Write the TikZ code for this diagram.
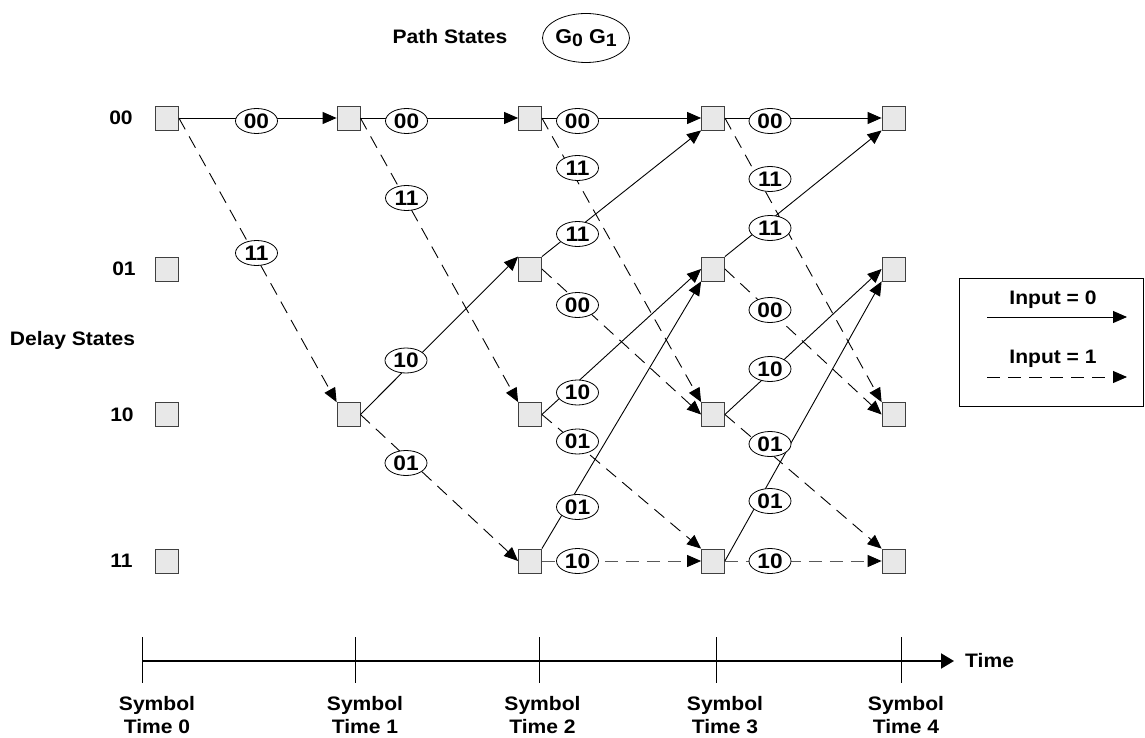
\documentclass[tikz,border=0pt]{standalone}
\usepackage{fontspec}
\setmainfont[FakeStretch=1.08]{Liberation Sans}
\usetikzlibrary{shapes.geometric,arrows.meta}
\tikzset{
  statebox/.style={draw=black!75,fill=black!9,line width=0.8pt,minimum width=23pt,minimum height=24pt,inner sep=0pt},
  lbl/.style={ellipse,draw=black,fill=white,line width=0.8pt,minimum width=42pt,minimum height=25pt,inner sep=0pt,font=\fontsize{21}{22}\selectfont\bfseries},
  txt/.style={font=\fontsize{19.5}{22.5}\selectfont\bfseries,inner sep=0pt},
  tip/.style={-{Triangle[length=14pt,width=12pt,color=black]}},
  zero/.style={tip,line width=0.9pt},
  one/.style={tip,line width=0.9pt,dash pattern=on 13pt off 8pt},
}
\begin{document}
\begin{tikzpicture}[x=1pt,y=-1pt]
\useasboundingbox (0,0) rectangle (1145,738);
% states
\foreach \x/\c in {167/0,530/2,713/3,893.5/4}
  \foreach \y/\r in {118/00,269/01,414.5/10,561/11}
    \node[statebox] (s\r\c) at (\x,\y) {};
\node[statebox] (s001) at (348.5,118) {};
\node[statebox] (s101) at (348.5,414.5) {};
% row labels
\node[txt] (r00) at (121,118) {00};
\node[txt] (r01) at (124,269) {01};
\node[txt] (r10) at (122,415) {10};
\node[txt] (r11) at (121.5,561) {11};
\node[txt] (delay) at (72.5,340) {Delay States};
% path states
\node[txt] (pathstates) at (450,37) {Path States};
\node[ellipse,draw=black,line width=0.8pt,minimum width=87pt,minimum height=49pt,inner sep=0pt,font=\fontsize{20}{22}\selectfont\bfseries] (g) at (586,38) {G\raisebox{-0.35ex}{\fontsize{18}{18}\selectfont 0} G\raisebox{-0.35ex}{\fontsize{18}{18}\selectfont 1}};
% t0 -> t1
\draw[zero] (s000.east) -- (s001.west);
\draw[one] (s000.east) -- (s101.north west);
% t1 -> t2
\draw[zero] (s001.east) -- (s002.west);
\draw[one] (s001.east) -- (s102.north west);
\draw[zero] (s101.east) -- (s012.north west);
\draw[one] (s101.east) -- (s112.west);
% t2 -> t3
\draw[zero] (s002.east) -- (s003.west);
\draw[one] (s002.east) -- (s103.north west);
\draw[zero] (s012.north east) -- (s003.south west);
\draw[one] (s012.east) -- (s103.west);
\draw[zero] (s102.east) -- (s013.west);
\draw[one] (s102.east) -- (s113.north west);
\draw[zero] (s112.north east) -- (s013.south west);
\draw[one,draw=black!65] (s112.east) -- (s113.west);
% t3 -> t4
\draw[zero] (s003.east) -- (s004.west);
\draw[one] (s003.east) -- (s104.north west);
\draw[zero] (s013.north east) -- (s004.south west);
\draw[one] (s013.east) -- (s104.west);
\draw[zero] (s103.east) -- (s014.west);
\draw[one] (s103.east) -- (s114.north west);
\draw[zero] (s113.east) -- (s014.south west);
\draw[one,draw=black!65] (s113.east) -- (s114.west);
% branch labels
\node[lbl] (l0a) at (256.5,121) {00};
\node[lbl] (l0b) at (256.5,253) {11};
\node[lbl] (l1a) at (406.5,121) {00};
\node[lbl] (l1b) at (406.5,198) {11};
\node[lbl] (l1c) at (406,360.5) {10};
\node[lbl] (l1d) at (406,463) {01};
\node[lbl] (l2a) at (577.5,121) {00};
\node[lbl] (l2b) at (577.5,168) {11};
\node[lbl] (l2c) at (577.5,234) {11};
\node[lbl] (l2d) at (577.5,305) {00};
\node[lbl] (l2e) at (577.5,392.5) {10};
\node[lbl] (l2f) at (577.5,441.5) {01};
\node[lbl] (l2g) at (577.5,507) {01};
\node[lbl] (l2h) at (577.5,561) {10};
\node[lbl] (l3a) at (770,121) {00};
\node[lbl] (l3b) at (770,179) {11};
\node[lbl] (l3c) at (770,228) {11};
\node[lbl] (l3d) at (770,310) {00};
\node[lbl] (l3e) at (770,369) {10};
\node[lbl] (l3f) at (770,444) {01};
\node[lbl] (l3g) at (770,501) {01};
\node[lbl] (l3h) at (770,561) {10};
% legend
\node[draw=black,line width=0.9pt,minimum width=184pt,minimum height=128pt,inner sep=0pt] (legend) at (1051,342) {};
\node[txt] (in0) at (1053,300) {Input = 0};
\node[txt] (in1) at (1053,359) {Input = 1};
\coordinate (la0) at (987,317);
\coordinate (lb0) at (1127,317);
\coordinate (la1) at (987,377);
\coordinate (lb1) at (1127,377);
\draw[zero] (la0) -- (lb0);
\draw[one] (la1) -- (lb1);
% time axis
\coordinate (ax0) at (142,661);
\coordinate (ax1) at (954,661);
\draw[line width=2pt,-{Triangle[length=13pt,width=15pt]}] (ax0) -- (ax1);
\node[txt,anchor=west] (timelbl) at (965,661) {Time};
\foreach \x/\i in {142/0,355/1,539/2,716/3,901/4}{
  \coordinate (tk\i a) at (\x,637);
  \coordinate (tk\i b) at (\x,683);
  \draw[line width=0.9pt] (tk\i a) -- (tk\i b);
}
\node[txt,align=center] (st0) at (157,715) {Symbol\\Time 0};
\node[txt,align=center] (st1) at (365,715) {Symbol\\Time 1};
\node[txt,align=center] (st2) at (542.5,715) {Symbol\\Time 2};
\node[txt,align=center] (st3) at (725,715) {Symbol\\Time 3};
\node[txt,align=center] (st4) at (906,715) {Symbol\\Time 4};
\end{tikzpicture}
\end{document}
